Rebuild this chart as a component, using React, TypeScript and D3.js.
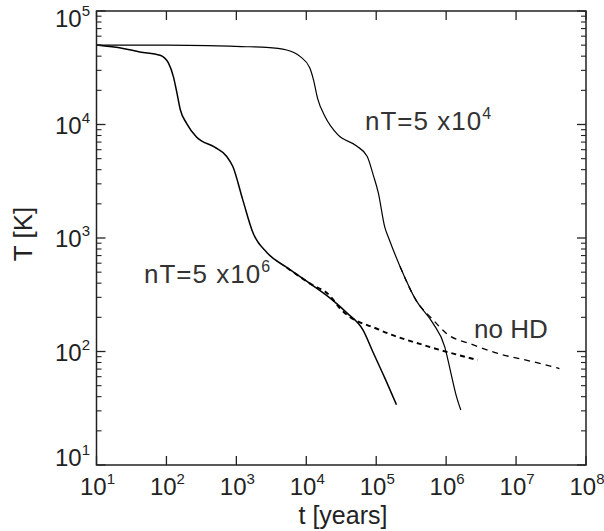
import React from "react";
import * as d3 from "d3";

// nT = 5x10^6 (solid) : [t years, T K]
const tA = [10, 24, 41.7, 81.3, 107, 126, 141, 158, 195, 269, 490, 724, 891, 1230, 1740, 2750, 5250, 11200, 24000, 38000, 64600, 89100, 132000, 195000];
const TA = [50100, 46800, 43600, 40700, 34700, 26300, 19100, 13500, 10200, 7760, 6310, 5250, 4270, 2190, 1100, 741, 550, 398, 282, 219, 155, 100, 58.9, 33.9];
// nT = 5x10^6, no HD (dashed)
const tA2 = [5250, 11200, 21900, 30200, 112000, 575000, 2820000];
const TA2 = [550, 398, 309, 240, 155, 110, 84.1];
// nT = 5x10^4 (solid)
const tB = [10, 100, 1550, 2690, 5250, 8130, 11200, 12600, 14500, 18600, 28200, 52500, 74100, 91200, 107000, 132000, 155000, 219000, 372000, 646000, 955000, 1170000, 1410000, 1620000];
const TB = [50100, 50100, 48400, 47900, 45300, 39800, 31600, 25100, 17000, 11700, 8130, 6460, 5250, 3550, 2510, 1260, 955, 562, 282, 178, 110, 64.6, 39.8, 30.5];
// nT = 5x10^4, no HD (dashed)
const tB2 = [219000, 372000, 646000, 1000000, 2400000, 5750000, 17400000, 41700000];
const TB2 = [562, 282, 191, 145, 115, 95.5, 81.3, 70.8];

const xTickExps = [1, 2, 3, 4, 5, 6, 7, 8];
const yTickExps = [1, 2, 3, 4, 5];

const W = 604, H = 531;
const L = 96.5, R = 586, T0 = 11, B0 = 465;
const FONT = "'Liberation Sans', Arial, Helvetica, sans-serif";
const INK = "#222";
const FS = 24;
const SUP = 15;

export default function App() {
  const x = d3.scaleLog().domain([10, 1e8]).range([L, R]);
  const y = d3.scaleLog().domain([10, 1e5]).range([B0, T0]);
  const line = d3
    .line<[number, number]>()
    .x((d) => x(d[0]))
    .y((d) => y(d[1]))
    .curve(d3.curveMonotoneX);
  const zip = (a: number[], b: number[]) => a.map((v, i) => [v, b[i]] as [number, number]);

  const minorY: number[] = [];
  for (let e = 1; e < 5; e++) for (let m = 2; m <= 9; m++) minorY.push(m * Math.pow(10, e));

  const yLabelBase = (e: number) => {
    if (e === 5) return y(1e5) + 16;
    if (e === 1) return y(10) + 1;
    return y(Math.pow(10, e)) + 9;
  };

  return (
    <svg width={W} height={H} style={{ position: "absolute", left: 0, top: 0, background: "#fff" }} fontFamily={FONT}>
      <rect x={0} y={0} width={W} height={H} fill="#fff" />
      {/* curves */}
      <path d={line(zip(tA2, TA2)) || ""} fill="none" stroke="#000" strokeWidth={1.9} strokeDasharray="5,4" />
      <path d={line(zip(tB2, TB2)) || ""} fill="none" stroke="#000" strokeWidth={1.3} strokeDasharray="6,5" />
      <path d={line(zip(tB, TB)) || ""} fill="none" stroke="#000" strokeWidth={1.2} />
      <path d={line(zip(tA, TA)) || ""} fill="none" stroke="#000" strokeWidth={1.5} />
      {/* frame */}
      <rect x={L} y={T0} width={R - L} height={B0 - T0} fill="none" stroke={INK} strokeWidth={1.5} />
      {/* x ticks */}
      {xTickExps.map((e) => {
        const px = x(Math.pow(10, e));
        return (
          <g key={"xt" + e}>
            <line x1={px} x2={px} y1={B0} y2={B0 - 9} stroke={INK} strokeWidth={1.3} />
            <line x1={px} x2={px} y1={T0} y2={T0 + 9} stroke={INK} strokeWidth={1.3} />
            <text x={px + 1} y={495} textAnchor="middle" fontSize={FS} fill={INK}>
              10<tspan dy={-11} fontSize={SUP}>{e}</tspan>
            </text>
          </g>
        );
      })}
      {/* y ticks */}
      {yTickExps.map((e) => {
        const py = y(Math.pow(10, e));
        return (
          <g key={"yt" + e}>
            <line x1={L} x2={L + 9} y1={py} y2={py} stroke={INK} strokeWidth={1.3} />
            <line x1={R} x2={R - 9} y1={py} y2={py} stroke={INK} strokeWidth={1.3} />
            <text x={90} y={yLabelBase(e)} textAnchor="end" fontSize={FS} fill={INK}>
              10<tspan dy={-11} fontSize={SUP}>{e}</tspan>
            </text>
          </g>
        );
      })}
      {minorY.map((v) => {
        const py = y(v);
        return (
          <g key={"ym" + v}>
            <line x1={L} x2={L + 5} y1={py} y2={py} stroke={INK} strokeWidth={1.1} />
            <line x1={R} x2={R - 5} y1={py} y2={py} stroke={INK} strokeWidth={1.1} />
          </g>
        );
      })}
      {/* axis titles */}
      <text x={343} y={524} textAnchor="middle" fontSize={25} fill={INK}>t [years]</text>
      <text transform="translate(32,234) rotate(-90)" textAnchor="middle" fontSize={26} fill={INK}>T [K]</text>
      {/* annotations */}
      <text x={365} y={130} fontSize={26} letterSpacing={1} fill="#333">
        nT=5 x10<tspan dy={-11} fontSize={16}>4</tspan>
      </text>
      <text x={144} y={283} fontSize={26} letterSpacing={1} fill="#333">
        nT=5 x10<tspan dy={-11} fontSize={16}>6</tspan>
      </text>
      <text x={474} y={338} fontSize={26} fill="#333">no HD</text>
    </svg>
  );
}
